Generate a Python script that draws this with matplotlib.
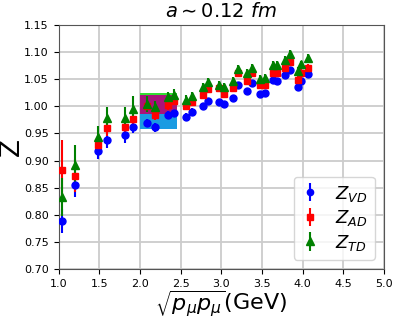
import numpy as np
import matplotlib
matplotlib.use("Agg")
import matplotlib.pyplot as plt

# momenta sqrt(p_mu p_mu) in GeV
x = [1.04, 1.20, 1.48, 1.60, 1.81, 1.91, 2.09, 2.18, 2.34, 2.42,
     2.57, 2.64, 2.78, 2.84, 2.97, 3.03, 3.15, 3.21, 3.32, 3.38,
     3.48, 3.54, 3.64, 3.69, 3.79, 3.84, 3.94, 3.98, 4.07]

z_vd = [0.788, 0.855, 0.917, 0.938, 0.947, 0.962, 0.969, 0.961, 0.984, 0.987,
        0.981, 0.990, 1.000, 1.010, 1.007, 1.005, 1.016, 1.039, 1.029, 1.042,
        1.023, 1.024, 1.049, 1.047, 1.058, 1.067, 1.036, 1.047, 1.059]
z_vd_err = [0.022, 0.022, 0.015, 0.015, 0.015, 0.012, 0.008, 0.008, 0.007, 0.007,
            0.006, 0.006, 0.006, 0.006, 0.005, 0.005, 0.005, 0.005, 0.005, 0.005,
            0.005, 0.005, 0.005, 0.005, 0.005, 0.005, 0.005, 0.005, 0.005]

z_ad = [0.882, 0.872, 0.929, 0.960, 0.962, 0.977, 1.000, 0.984, 1.002, 1.010,
        1.000, 1.007, 1.021, 1.031, 1.033, 1.023, 1.034, 1.061, 1.046, 1.061,
        1.039, 1.040, 1.062, 1.061, 1.070, 1.081, 1.049, 1.062, 1.071]
z_ad_err = [0.055, 0.030, 0.015, 0.015, 0.012, 0.012, 0.010, 0.010, 0.008, 0.008,
            0.007, 0.007, 0.006, 0.006, 0.006, 0.006, 0.006, 0.006, 0.006, 0.006,
            0.006, 0.006, 0.006, 0.006, 0.006, 0.006, 0.006, 0.006, 0.006]

z_td = [0.833, 0.892, 0.943, 0.978, 0.979, 0.995, 1.004, 0.998, 1.017, 1.021,
        1.012, 1.018, 1.035, 1.045, 1.039, 1.035, 1.047, 1.069, 1.061, 1.071,
        1.050, 1.053, 1.076, 1.076, 1.086, 1.097, 1.065, 1.077, 1.089]
z_td_err = [0.035, 0.037, 0.020, 0.020, 0.020, 0.023, 0.014, 0.012, 0.010, 0.010,
            0.008, 0.008, 0.007, 0.007, 0.007, 0.007, 0.007, 0.007, 0.007, 0.007,
            0.007, 0.007, 0.007, 0.007, 0.007, 0.007, 0.007, 0.007, 0.007]

# fit window and bands
window = [2.0, 2.45]
band_vd = [0.958, 0.986]
band_ad = [0.986, 1.021]
band_td = [1.021, 1.024]

fig = plt.figure(figsize=(3.99, 3.23), dpi=100)
ax = fig.add_axes([0.147, 0.167, 0.815, 0.756])

ax.grid(True, color='#cccccc', linewidth=1.3)
ax.set_axisbelow(True)

ax.fill_between(window, band_vd[0], band_vd[1], color='#1a9be2', lw=0, zorder=1.5)
ax.fill_between(window, band_ad[0], band_ad[1], color='#a8137a', lw=0, zorder=1.5)
ax.fill_between(window, band_td[0], band_td[1], color='#33dd33', lw=0, zorder=1.5)

ax.errorbar(x, z_vd, yerr=z_vd_err, fmt='o', color='blue', markersize=5,
            elinewidth=1.5, label=r'$Z_{VD}$', zorder=3)
ax.errorbar(x, z_ad, yerr=z_ad_err, fmt='s', color='red', markersize=5,
            elinewidth=1.5, label=r'$Z_{AD}$', zorder=3)
ax.errorbar(x, z_td, yerr=z_td_err, fmt='^', color='green', markersize=6,
            elinewidth=1.5, label=r'$Z_{TD}$', zorder=3)

ax.set_xlim(1.0, 5.0)
ax.set_ylim(0.70, 1.15)
ax.set_xticks(np.arange(1.0, 5.01, 0.5))
ax.set_yticks(np.arange(0.70, 1.151, 0.05))
ax.xaxis.set_major_formatter(matplotlib.ticker.FormatStrFormatter('%.1f'))
ax.yaxis.set_major_formatter(matplotlib.ticker.FormatStrFormatter('%.2f'))
ax.tick_params(labelsize=8)
for s in ax.spines.values():
    s.set_color('#555555')

ax.set_title(r'$a \sim 0.12\ fm$', fontsize=14)
ax.set_xlabel(r'$\sqrt{p_\mu p_\mu}$(GeV)', fontsize=16, labelpad=0)
ax.set_ylabel('Z', fontsize=19)
ax.yaxis.set_label_coords(-0.105, 0.5)

ax.legend(loc='lower right', fontsize=13, handlelength=1.0,
          labelspacing=0.25, handletextpad=0.9, borderaxespad=0.5,
          markerscale=0.9)

fig.savefig('out.png', dpi=100)
